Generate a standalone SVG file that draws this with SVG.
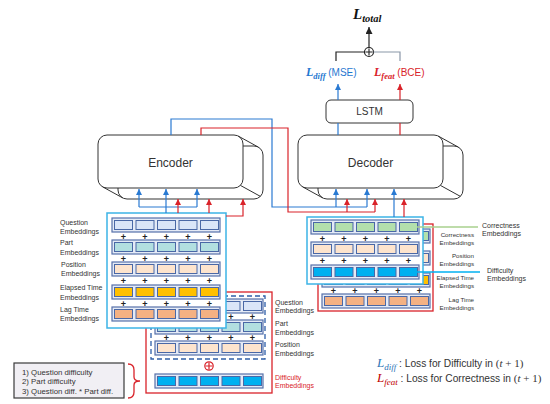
<svg xmlns="http://www.w3.org/2000/svg" width="550" height="404" viewBox="0 0 550 404">
<style>
text{font-family:"Liberation Sans",Arial,sans-serif;fill:#333}
.lbl{font-size:7px}
.sl{font-size:6.2px;text-anchor:end}
.pl{font-size:9px;font-weight:bold;text-anchor:middle;fill:#222}
.m{font-family:"Liberation Serif","Times New Roman",serif;font-style:italic}
.shape{fill:#fff;stroke:#333;stroke-width:1}
.edge{fill:none;stroke:#333;stroke-width:1}
.frame{fill:#fff;stroke:#3cb4e6;stroke-width:1.5}
.ro{fill:#e4eaf6;stroke:#5670aa;stroke-width:1.2}
.c{stroke:#4a68a6;stroke-width:1}
.bl{fill:none;stroke:#2a7ad2;stroke-width:1.2}
.rd{fill:none;stroke:#d9232a;stroke-width:1.2}
.bk{fill:none;stroke:#222;stroke-width:1.2}
</style>
<defs>
<marker id="mb" viewBox="0 0 10 10" refX="10" refY="5" markerWidth="6" markerHeight="6" markerUnits="userSpaceOnUse" orient="auto"><path d="M0,0 L10,5 L0,10 z" fill="#2a7ad2"/></marker>
<marker id="mr" viewBox="0 0 10 10" refX="10" refY="5" markerWidth="6" markerHeight="6" markerUnits="userSpaceOnUse" orient="auto"><path d="M0,0 L10,5 L0,10 z" fill="#d9232a"/></marker>
<marker id="mk" viewBox="0 0 10 10" refX="10" refY="5" markerWidth="7" markerHeight="7" markerUnits="userSpaceOnUse" orient="auto"><path d="M0,0 L10,5 L0,10 z" fill="#222"/></marker>
<g id="row">
<rect class="ro" x="0" y="0" width="108" height="14"/>
<rect class="c" x="2.5" y="2.5" width="18" height="9"/>
<rect class="c" x="24" y="2.5" width="18" height="9"/>
<rect class="c" x="45.5" y="2.5" width="18" height="9"/>
<rect class="c" x="67" y="2.5" width="18" height="9"/>
<rect class="c" x="88.5" y="2.5" width="18" height="9"/>
</g>
<g id="plus"><text class="pl" x="11.5 33 54.5 76 97.5" y="0">+++++</text></g>
</defs>

<!-- Encoder input: difficulty block (behind) -->
<g id="enc-difficulty">
<rect x="146" y="292" width="126" height="101" fill="#fff" stroke="#d9232a" stroke-width="1.3"/>
<rect x="151" y="296" width="114" height="63" fill="#fff" stroke="#2f5fa8" stroke-width="1.3" stroke-dasharray="5,3"/>
<use href="#row" x="155" y="299" fill="#dae5f8"/>
<use href="#plus" x="155" y="320"/>
<use href="#row" x="155" y="320" fill="#b2dfe0"/>
<use href="#plus" x="155" y="341"/>
<use href="#row" x="155" y="341" fill="#fde4cd"/>
<circle cx="209" cy="366" r="4.2" fill="#fff" stroke="#d9232a" stroke-width="1.2"/>
<path d="M209,362.5 V369.5 M205.5,366 H212.5" stroke="#d9232a" stroke-width="1.2"/>
<use href="#row" x="155" y="374" fill="#00b0f0"/>
<text class="lbl" x="275" y="304.5">Question</text>
<text class="lbl" x="275" y="312.5">Embeddings</text>
<text class="lbl" x="275" y="325.5">Part</text>
<text class="lbl" x="275" y="334.5">Embeddings</text>
<text class="lbl" x="275" y="346.5">Position</text>
<text class="lbl" x="275" y="355.5">Embeddings</text>
<text class="lbl" x="275" y="379.5" style="fill:#d9232a">Difficulty</text>
<text class="lbl" x="275" y="387.5" style="fill:#d9232a">Embeddings</text>
</g>

<!-- Encoder input: main embeddings -->
<g id="enc-inputs">
<rect class="frame" x="107" y="213" width="119" height="115"/>
<use href="#row" x="112" y="218" fill="#dae5f8"/>
<use href="#plus" x="112" y="239.5"/>
<use href="#row" x="112" y="240" fill="#b2dfe0"/>
<use href="#plus" x="112" y="261.5"/>
<use href="#row" x="112" y="262" fill="#fde4cd"/>
<use href="#plus" x="112" y="284"/>
<use href="#row" x="112" y="285" fill="#ffc000"/>
<use href="#plus" x="112" y="306.5"/>
<use href="#row" x="112" y="307" fill="#f4b183"/>
<text class="lbl" x="60" y="224.5">Question</text>
<text class="lbl" x="60" y="233.5">Embeddings</text>
<text class="lbl" x="60" y="244.5">Part</text>
<text class="lbl" x="60" y="254.5">Embeddings</text>
<text class="lbl" x="61" y="266.5">Position</text>
<text class="lbl" x="61" y="275.5">Embeddings</text>
<text class="lbl" x="60" y="289.5">Elapsed Time</text>
<text class="lbl" x="60" y="299.5">Embeddings</text>
<text class="lbl" x="60" y="311.5">Lag Time</text>
<text class="lbl" x="60" y="320.5">Embeddings</text>
</g>

<!-- Decoder input: hidden layer (behind) -->
<g id="dec-hidden">
<rect x="318" y="224" width="115" height="87" fill="#fff" stroke="#d9232a" stroke-width="1.3"/>
<use href="#row" x="322" y="229" fill="#b3e0ac"/>
<use href="#plus" x="322" y="250.5"/>
<use href="#row" x="322" y="251" fill="#fde4cd"/>
<use href="#plus" x="322" y="272.5"/>
<use href="#row" x="322" y="273" fill="#ffc000"/>
<use href="#plus" x="322" y="294"/>
<use href="#row" x="322" y="294" fill="#f4b183"/>
<text class="sl" x="474" y="236.5">Correctness</text>
<text class="sl" x="474" y="244.5">Embeddings</text>
<text class="sl" x="474" y="257.5">Position</text>
<text class="sl" x="474" y="265.5">Embeddings</text>
<text class="sl" x="474" y="279.5">Elapsed Time</text>
<text class="sl" x="474" y="287.5">Embeddings</text>
<text class="sl" x="474" y="301.5">Lag Time</text>
<text class="sl" x="474" y="309.5">Embeddings</text>
</g>

<!-- Decoder input: front -->
<g id="dec-inputs">
<rect class="frame" x="307" y="217" width="116" height="67"/>
<use href="#row" x="311" y="220" fill="#b3e0ac"/>
<use href="#plus" x="311" y="241.5"/>
<use href="#row" x="311" y="242" fill="#fde4cd"/>
<use href="#plus" x="311" y="264"/>
<use href="#row" x="311" y="265" fill="#00b0f0"/>
<path d="M417,227 H478" stroke="#a9d18e" stroke-width="1.5"/>
<path d="M417,272 H480" stroke="#00b0f0" stroke-width="1.5"/>
<text class="lbl" x="482" y="227.5">Correctness</text>
<text class="lbl" x="482" y="235.5">Embeddings</text>
<text class="lbl" x="487" y="272.5">Difficulty</text>
<text class="lbl" x="487" y="281">Embeddings</text>
</g>

<!-- Encoder -->
<g id="encoder">
<rect class="shape" x="118" y="146" width="145" height="53" rx="9"/>
<rect class="shape" x="98" y="135" width="145" height="53" rx="9"/>
<path class="edge" d="M238.3,136.1 L258.3,147.1 M102.7,186.9 L122.7,197.9 M240.4,185.4 L260.4,196.4"/>
<text x="170.5" y="166.5" font-size="12" text-anchor="middle">Encoder</text>
</g>

<!-- Decoder -->
<g id="decoder">
<rect class="shape" x="318" y="146" width="145" height="53" rx="9"/>
<rect class="shape" x="298" y="135" width="145" height="53" rx="9"/>
<path class="edge" d="M438.3,136.1 L458.3,147.1 M302.7,186.9 L322.7,197.9 M440.4,185.4 L460.4,196.4"/>
<text x="370.5" y="166.5" font-size="12" text-anchor="middle">Decoder</text>
</g>

<!-- LSTM -->
<g id="lstm">
<rect class="shape" x="326" y="100" width="87" height="23" rx="5"/>
<text x="369.5" y="115" font-size="10" text-anchor="middle">LSTM</text>
</g>

<!-- Losses -->
<g id="loss-total">
<text x="353" y="19" class="m" font-weight="bold" style="fill:#111"><tspan font-size="15">L</tspan><tspan font-size="10.5" dy="3">total</tspan></text>
<circle cx="369" cy="52" r="4.5" fill="#fff" stroke="#222" stroke-width="1.2"/>
<path d="M369,48.5 V55.5 M365.5,52 H372.5" stroke="#222" stroke-width="1.1"/>
</g>
<g id="loss-diff">
<text x="306" y="76" style="fill:#1f77d0"><tspan class="m" font-weight="bold" font-size="12" style="fill:#1f77d0">L</tspan><tspan class="m" font-weight="bold" font-size="8.5" dy="2.5" style="fill:#1f77d0">diff</tspan><tspan font-size="10" dy="-2.5" style="fill:#1f77d0"> (MSE)</tspan></text>
</g>
<g id="loss-feat">
<text x="374" y="76" style="fill:#d9232a"><tspan class="m" font-weight="bold" font-size="12" style="fill:#d9232a">L</tspan><tspan class="m" font-weight="bold" font-size="8.5" dy="2.5" style="fill:#d9232a">feat</tspan><tspan font-size="10" dy="-2.5" style="fill:#d9232a"> (BCE)</tspan></text>
</g>

<!-- Connectors -->
<g id="connectors">
<path class="bk" d="M369,47.5 V27" marker-end="url(#mk)"/>
<path class="bk" d="M336,61 V52 H364.5"/>
<path d="M373.5,52 H400 V61" fill="none" stroke="#8a97a8" stroke-width="1.2"/>
<path class="bl" d="M338,100 V84" marker-end="url(#mb)"/>
<path class="rd" d="M400,100 V84" marker-end="url(#mr)"/>
<path class="bl" d="M338,123 V135"/>
<path class="rd" d="M400,123 V135"/>
<path class="bl" d="M171,135 V119 H272 V207 H367"/>
<path class="rd" d="M201,135 V128 H288 V212 H375"/>
<path class="bl" d="M336,207 V189" marker-end="url(#mb)"/>
<path class="bl" d="M367,207 V189" marker-end="url(#mb)"/>
<path class="bl" d="M394,217 V189" marker-end="url(#mb)"/>
<path class="rd" d="M347,212 V199" marker-end="url(#mr)"/>
<path class="rd" d="M375,212 V199" marker-end="url(#mr)"/>
<path class="rd" d="M404,217 V199" marker-end="url(#mr)"/>
<path class="bl" d="M166,213 V207 M139,207 H197"/>
<path class="bl" d="M139,207 V189" marker-end="url(#mb)"/>
<path class="bl" d="M166,207 V189" marker-end="url(#mb)"/>
<path class="bl" d="M197,207 V189" marker-end="url(#mb)"/>
<path class="rd" d="M178,213 V199" marker-end="url(#mr)"/>
<path class="rd" d="M209,213 V199" marker-end="url(#mr)"/>
<path class="rd" d="M226,216 H243 V199" marker-end="url(#mr)"/>
</g>

<!-- Note box -->
<g id="note">
<rect x="14" y="363" width="110" height="35" fill="#f1eff4" stroke="#3a3a3a" stroke-width="1.2"/>
<text x="22" y="374.5" font-size="7.8">1) Question difficulty</text>
<text x="22" y="384" font-size="7.8">2) Part difficulty</text>
<text x="22" y="394" font-size="7.8">3) Question diff. * Part diff.</text>
<path d="M128,364 Q134,364 134,370 L134,377 Q134,381 140,381 Q134,381 134,385 L134,392 Q134,398 128,398" fill="none" stroke="#d9232a" stroke-width="1.3"/>
</g>

<!-- Legend -->
<g id="legend">
<text x="377" y="367" font-size="10.2"><tspan class="m" font-size="13" style="fill:#2e75b6">L</tspan><tspan class="m" font-size="9" dy="2.5" style="fill:#2e75b6">diff</tspan><tspan dy="-2.5"> : Loss for Difficulty in </tspan><tspan class="m" font-size="11" style="font-style:normal">(</tspan><tspan class="m" font-size="11">t</tspan><tspan class="m" font-size="11" style="font-style:normal"> + 1)</tspan></text>
<text x="377" y="382" font-size="10.2"><tspan class="m" font-size="13" style="fill:#c00000">L</tspan><tspan class="m" font-size="9" dy="2.5" style="fill:#c00000">feat</tspan><tspan dy="-2.5"> : Loss for Correctness in </tspan><tspan class="m" font-size="11" style="font-style:normal">(</tspan><tspan class="m" font-size="11">t</tspan><tspan class="m" font-size="11" style="font-style:normal"> + 1)</tspan></text>
</g>
</svg>
